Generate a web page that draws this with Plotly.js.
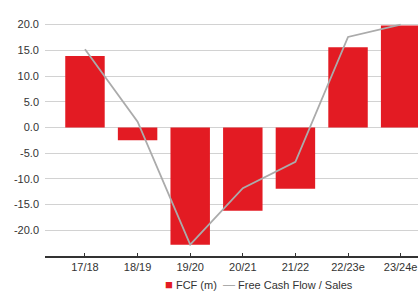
<!DOCTYPE html>
<html>
<head>
<meta charset="utf-8">
<script src="https://cdn.plot.ly/plotly-3.0.1.min.js"></script>
<style>html,body{margin:0;padding:0;background:#fff}#chart{width:418px;height:293px}</style>
</head>
<body>
<div id="chart"></div>
<script>
const categories = ["17/18", "18/19", "19/20", "20/21", "21/22", "22/23e", "23/24e"];
const fcf = [13.9, -2.5, -22.8, -16.2, -11.9, 15.6, 19.8];
const fcfToSales = [15.2, 1.1, -22.8, -11.8, -6.7, 17.6, 20.0];
const yTickVals = [-20, -15, -10, -5, 0, 5, 10, 15, 20];
const yTickText = ["-20.0", "-15.0", "-10.0", "-5.0", "0.0", "5.0", "10.0", "15.0", "20.0"];
const seriesNames = ["FCF (m)", "Free Cash Flow / Sales"];

const red = "#e31b23";
const grey = "#ababab";

const traces = [
  {type: "bar", x: categories, y: fcf, name: seriesNames[0], marker: {color: red}, width: 0.75, showlegend: false, hoverinfo: "none"},
  {type: "scatter", mode: "lines", x: categories, y: fcfToSales, name: seriesNames[1], line: {color: grey, width: 1.8}, showlegend: false, hoverinfo: "none"}
];

const layout = {
  width: 418, height: 293,
  margin: {l: 45, r: 0, t: 22, b: 37, pad: 0},
  paper_bgcolor: "#fff", plot_bgcolor: "#fff",
  font: {family: "Liberation Sans, Arial, sans-serif", size: 11, color: "#333"},
  showlegend: false,
  bargap: 0.25,
  xaxis: {
    type: "category", range: [-0.76, 6.33],
    showline: true, linecolor: "#333", linewidth: 1.5,
    ticks: "inside", ticklen: 3, tickcolor: "#333", tickwidth: 1,
    showgrid: false, zeroline: false,
    tickfont: {size: 11, color: "#333"}
  },
  yaxis: {
    range: [-25, 20.5],
    tickvals: yTickVals, ticktext: yTickText,
    showgrid: true, gridcolor: "#d2d2d2", gridwidth: 1,
    zeroline: false, showline: false, ticks: "", ticklabelstandoff: 5,
    tickfont: {size: 11, color: "#333"}
  },
  annotations: [
    {xref: "paper", yref: "paper", x: 0.575, y: -0.122, xanchor: "center", yanchor: "middle", showarrow: false,
     text: "<span style='color:" + red + ";font-size:13px'>■</span> " + seriesNames[0] + "  <span style='color:" + grey + ";font-size:12px'>—</span> " + seriesNames[1],
     font: {size: 11, color: "#333"}}
  ]
};

Plotly.newPlot("chart", traces, layout, {staticPlot: true, displayModeBar: false});
</script>
</body>
</html>
